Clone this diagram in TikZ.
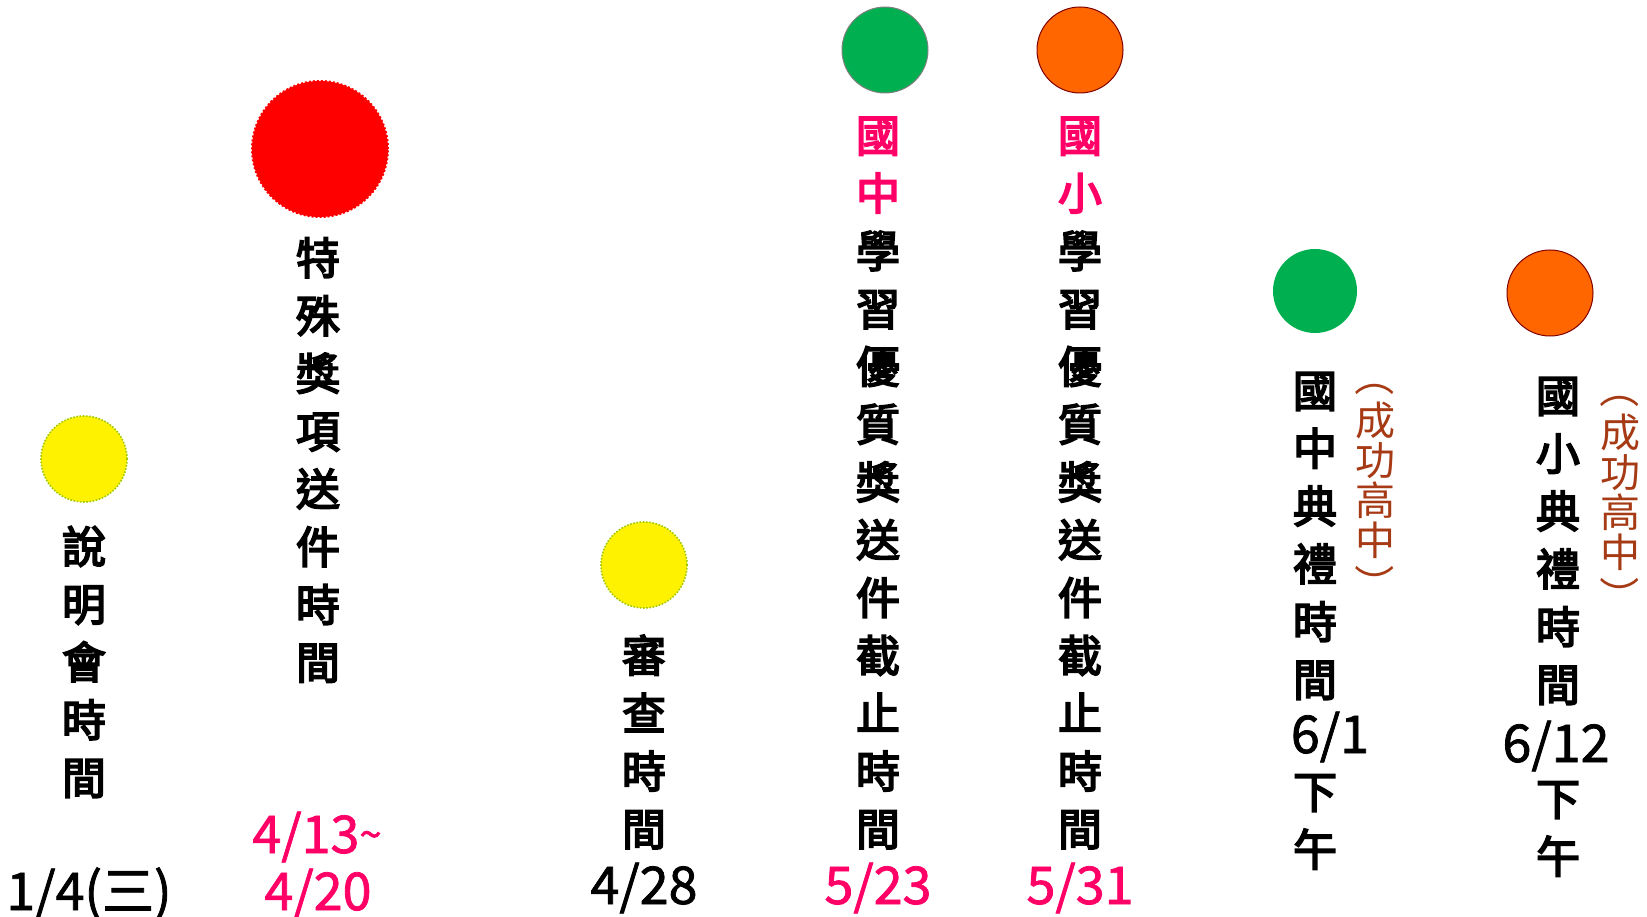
\documentclass[tikz,border=0pt]{standalone}
\usepackage{fontspec}
\newfontfamily\cjk{Noto Sans CJK TC}
\newfontfamily\cjkb{Noto Sans CJK TC}[FakeBold=4]
\newfontfamily\cjkd{Noto Sans CJK TC}[FakeBold=1.5]
\definecolor{pinkc}{RGB}{255,0,102}
\definecolor{brownc}{RGB}{166,58,20}
\definecolor{greenc}{RGB}{0,176,80}
\definecolor{orangec}{RGB}{255,102,0}
\definecolor{darkred}{RGB}{128,0,0}
\definecolor{yellowgreen}{RGB}{160,200,0}
\newcommand{\vpl}{\rotatebox[origin=c]{-90}{（}}
\newcommand{\vpr}{\rotatebox[origin=c]{-90}{）}}
\begin{document}
\begin{tikzpicture}[x=1pt,y=-1pt,
  ball/.style={circle,inner sep=0pt,minimum size=86pt},
  yball/.style={ball,fill=yellow,draw=yellowgreen,line width=1.6pt,dash pattern=on 1.6pt off 1.6pt},
  vcol/.style={inner sep=0pt,align=center,font=\cjkb\fontsize{44}{57.8}\selectfont},
  brn/.style={inner sep=0pt,align=center,text=brownc,font=\cjk\fontsize{40}{40}\selectfont},
  datetext/.style={inner sep=0pt,anchor=base,font=\cjkd\fontsize{52}{57}\selectfont}]
\useasboundingbox (0,0) rectangle (1647,917);
% circles
\node[yball] (c1) at (84,459) {};
\node[ball,minimum size=136pt,fill=red,draw=red,line width=2pt,dash pattern=on 2pt off 2pt] (c2) at (320,149) {};
\node[yball] (c3) at (644,565) {};
\node[ball,fill=greenc,draw=gray,line width=1pt] (c4) at (885,50) {};
\node[ball,fill=orangec,draw=darkred,line width=1pt] (c5) at (1080,50) {};
\node[ball,minimum size=84pt,fill=greenc] (c6) at (1315,291) {};
\node[ball,fill=orangec,draw=darkred,line width=1pt] (c7) at (1550,293) {};
% vertical texts
\node[vcol] (t1) at (84,662) {說\\明\\會\\時\\間};
\node[vcol] (t2) at (318,460) {特\\殊\\獎\\項\\送\\件\\時\\間};
\node[vcol] (t3) at (644,742) {審\\查\\時\\間};
\node[vcol] (t4) at (878,483) {\textcolor{pinkc}{國}\\\textcolor{pinkc}{中}\\學\\習\\優\\質\\獎\\送\\件\\截\\止\\時\\間};
\node[vcol] (t5) at (1080,483) {\textcolor{pinkc}{國}\\\textcolor{pinkc}{小}\\學\\習\\優\\質\\獎\\送\\件\\截\\止\\時\\間};
\node[vcol] (t6) at (1315,536) {國\\中\\典\\禮\\時\\間};
\node[vcol] (t6b) at (1315,822) {下\\午};
\node[vcol] (t7) at (1558,541) {國\\小\\典\\禮\\時\\間};
\node[vcol] (t7b) at (1558,829) {下\\午};
\node[brn] (b6) at (1375,480) {\vpl\\[4pt]成\\功\\高\\中\\[4pt]\vpr};
\node[brn] (b7) at (1620,492) {\vpl\\[4pt]成\\功\\高\\中\\[4pt]\vpr};
% dates
\node[datetext] (d1) at (89,910) {1/4(三)};
\node[datetext,text=pinkc] (d2a) at (317,853) {4/13\raisebox{4pt}{\fontsize{40}{40}\selectfont\char"7E}};
\node[datetext,text=pinkc] (d2b) at (318,910) {4/20};
\node[datetext] (d3) at (644,904) {4/28};
\node[datetext,text=pinkc] (d4) at (878,904) {5/23};
\node[datetext,text=pinkc] (d5) at (1080,904) {5/31};
\node[datetext] (d6) at (1330,753) {6/1};
\node[datetext] (d7) at (1556,762) {6/12};
\end{tikzpicture}
\end{document}
